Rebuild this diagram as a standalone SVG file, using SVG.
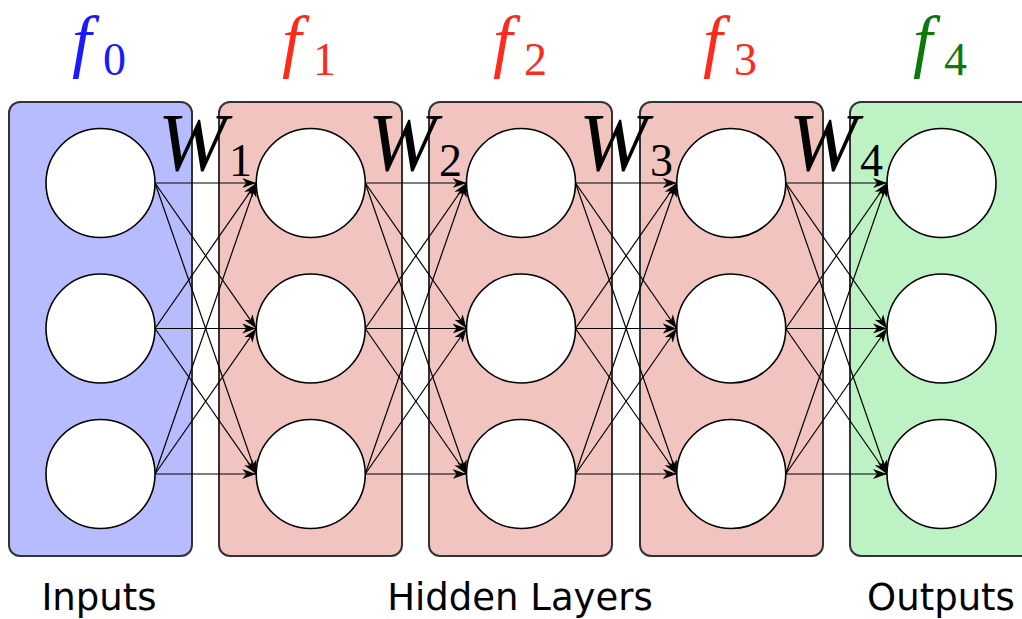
<svg xmlns="http://www.w3.org/2000/svg" width="1022" height="619" viewBox="0 0 1022 619">
<style>
.box{stroke:#333;stroke-width:2}
.in{fill:#b6bcfd}
.hid{fill:#f2c4bf}
.out{fill:#bdf2c4}
.node{fill:#fff;stroke:#000;stroke-width:1.6}
.edge{stroke:#000;stroke-width:1.2;fill:none;marker-end:url(#ah)}
.f{font-family:"Liberation Serif",serif;font-style:italic;font-size:70px}
.sub{font-family:"Liberation Serif",serif;font-style:normal}
.w{font-family:"Liberation Serif",serif;font-style:italic;font-size:82px;fill:#000}
.lab{font-family:"DejaVu Sans",sans-serif;font-size:37px;fill:#000}
</style>
<defs>
<marker id="ah" markerUnits="userSpaceOnUse" markerWidth="15" markerHeight="11" viewBox="0 0 15 11" refX="14" refY="5.5" orient="auto">
<path d="M0,0.5 L14,5.5 L0,10.5 L4,5.5 Z" fill="#000"/>
</marker>
</defs>
<g id="layers">
<rect id="layer0" class="box in" x="9" y="102" width="183" height="454" rx="11"/>
<rect id="layer1" class="box hid" x="219" y="102" width="183" height="454" rx="11"/>
<rect id="layer2" class="box hid" x="429" y="102" width="183" height="454" rx="11"/>
<rect id="layer3" class="box hid" x="640" y="102" width="183" height="454" rx="11"/>
<rect id="layer4" class="box out" x="850" y="102" width="200" height="454" rx="11"/>
</g>
<g id="connectors">
<line class="edge" x1="155" y1="183" x2="256.25" y2="183"/>
<line class="edge" x1="155" y1="183" x2="256.25" y2="328.5"/>
<line class="edge" x1="155" y1="183" x2="256.25" y2="474"/>
<line class="edge" x1="155" y1="328.5" x2="256.25" y2="183"/>
<line class="edge" x1="155" y1="328.5" x2="256.25" y2="328.5"/>
<line class="edge" x1="155" y1="328.5" x2="256.25" y2="474"/>
<line class="edge" x1="155" y1="474" x2="256.25" y2="183"/>
<line class="edge" x1="155" y1="474" x2="256.25" y2="328.5"/>
<line class="edge" x1="155" y1="474" x2="256.25" y2="474"/>
<line class="edge" x1="365.25" y1="183" x2="466.5" y2="183"/>
<line class="edge" x1="365.25" y1="183" x2="466.5" y2="328.5"/>
<line class="edge" x1="365.25" y1="183" x2="466.5" y2="474"/>
<line class="edge" x1="365.25" y1="328.5" x2="466.5" y2="183"/>
<line class="edge" x1="365.25" y1="328.5" x2="466.5" y2="328.5"/>
<line class="edge" x1="365.25" y1="328.5" x2="466.5" y2="474"/>
<line class="edge" x1="365.25" y1="474" x2="466.5" y2="183"/>
<line class="edge" x1="365.25" y1="474" x2="466.5" y2="328.5"/>
<line class="edge" x1="365.25" y1="474" x2="466.5" y2="474"/>
<line class="edge" x1="575.5" y1="183" x2="676.75" y2="183"/>
<line class="edge" x1="575.5" y1="183" x2="676.75" y2="328.5"/>
<line class="edge" x1="575.5" y1="183" x2="676.75" y2="474"/>
<line class="edge" x1="575.5" y1="328.5" x2="676.75" y2="183"/>
<line class="edge" x1="575.5" y1="328.5" x2="676.75" y2="328.5"/>
<line class="edge" x1="575.5" y1="328.5" x2="676.75" y2="474"/>
<line class="edge" x1="575.5" y1="474" x2="676.75" y2="183"/>
<line class="edge" x1="575.5" y1="474" x2="676.75" y2="328.5"/>
<line class="edge" x1="575.5" y1="474" x2="676.75" y2="474"/>
<line class="edge" x1="785.75" y1="183" x2="887" y2="183"/>
<line class="edge" x1="785.75" y1="183" x2="887" y2="328.5"/>
<line class="edge" x1="785.75" y1="183" x2="887" y2="474"/>
<line class="edge" x1="785.75" y1="328.5" x2="887" y2="183"/>
<line class="edge" x1="785.75" y1="328.5" x2="887" y2="328.5"/>
<line class="edge" x1="785.75" y1="328.5" x2="887" y2="474"/>
<line class="edge" x1="785.75" y1="474" x2="887" y2="183"/>
<line class="edge" x1="785.75" y1="474" x2="887" y2="328.5"/>
<line class="edge" x1="785.75" y1="474" x2="887" y2="474"/>
</g>
<g id="n00"><circle class="node" cx="100.5" cy="183" r="54.5"/></g>
<g id="n01"><circle class="node" cx="100.5" cy="328.5" r="54.5"/></g>
<g id="n02"><circle class="node" cx="100.5" cy="474" r="54.5"/></g>
<g id="n10"><circle class="node" cx="310.75" cy="183" r="54.5"/></g>
<g id="n11"><circle class="node" cx="310.75" cy="328.5" r="54.5"/></g>
<g id="n12"><circle class="node" cx="310.75" cy="474" r="54.5"/></g>
<g id="n20"><circle class="node" cx="521" cy="183" r="54.5"/></g>
<g id="n21"><circle class="node" cx="521" cy="328.5" r="54.5"/></g>
<g id="n22"><circle class="node" cx="521" cy="474" r="54.5"/></g>
<g id="n30"><circle class="node" cx="731.25" cy="183" r="54.5"/></g>
<g id="n31"><circle class="node" cx="731.25" cy="328.5" r="54.5"/></g>
<g id="n32"><circle class="node" cx="731.25" cy="474" r="54.5"/></g>
<g id="n40"><circle class="node" cx="941.5" cy="183" r="54.5"/></g>
<g id="n41"><circle class="node" cx="941.5" cy="328.5" r="54.5"/></g>
<g id="n42"><circle class="node" cx="941.5" cy="474" r="54.5"/></g>
<g id="weights">
<text class="w" x="158" y="170">W<tspan class="sub" font-size="46" x="229" y="176">1</tspan></text>
<text class="w" x="368" y="170">W<tspan class="sub" font-size="46" x="439" y="176">2</tspan></text>
<text class="w" x="579" y="170">W<tspan class="sub" font-size="46" x="650" y="176">3</tspan></text>
<text class="w" x="789" y="170">W<tspan class="sub" font-size="46" x="860" y="176">4</tspan></text>
</g>
<g id="titles">
<text class="f" x="72" y="64" fill="#1a1aff">f<tspan class="sub" font-size="46" x="103" y="75">0</tspan></text>
<text class="f" x="282" y="64" fill="#ff2a1a">f<tspan class="sub" font-size="46" x="313" y="75">1</tspan></text>
<text class="f" x="493" y="64" fill="#ff2a1a">f<tspan class="sub" font-size="46" x="524" y="75">2</tspan></text>
<text class="f" x="703" y="64" fill="#ff2a1a">f<tspan class="sub" font-size="46" x="734" y="75">3</tspan></text>
<text class="f" x="913" y="64" fill="#0a7a0a">f<tspan class="sub" font-size="46" x="944" y="75">4</tspan></text>
</g>
<g id="labels">
<text class="lab" x="99" y="610" text-anchor="middle">Inputs</text>
<text class="lab" x="520" y="610" text-anchor="middle">Hidden Layers</text>
<text class="lab" x="941" y="610" text-anchor="middle">Outputs</text>
</g>
</svg>
